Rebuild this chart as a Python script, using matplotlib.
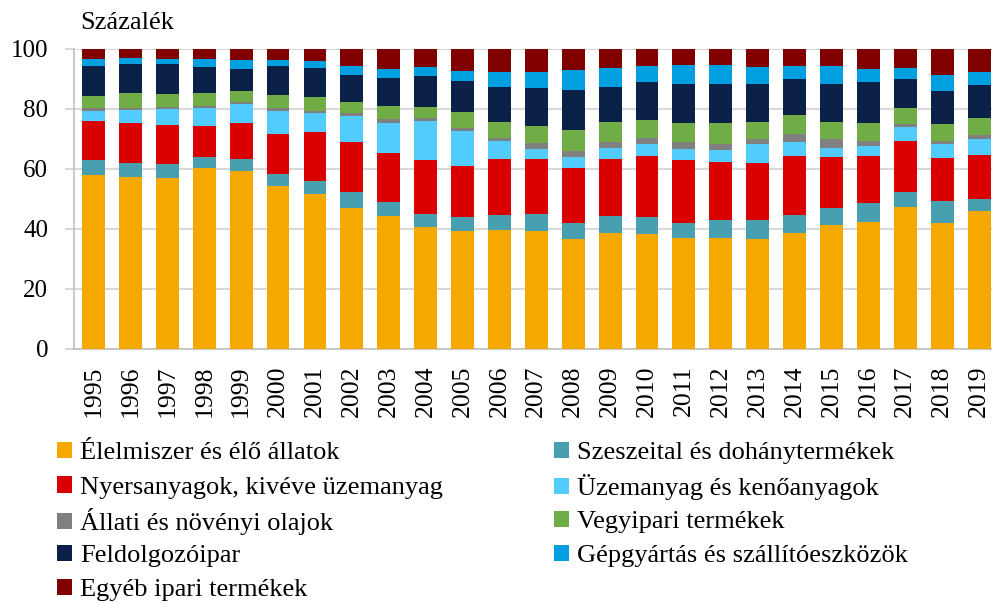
import matplotlib
matplotlib.use("Agg")
import matplotlib.pyplot as plt
from matplotlib.patches import Patch
import numpy as np

years = [str(y) for y in range(1995, 2020)]

elelmiszer = [58.0, 57.3, 57.0, 60.4, 59.2, 54.2, 51.6, 46.8, 44.3, 40.7, 39.4, 39.7, 39.4,
              36.7, 38.7, 38.4, 36.8, 37.1, 36.7, 38.7, 41.2, 42.2, 47.3, 41.8, 45.8]
szeszeital = [4.9, 4.7, 4.5, 3.6, 3.9, 4.1, 4.4, 5.5, 4.7, 4.3, 4.7, 4.9, 5.5,
              5.3, 5.5, 5.7, 5.3, 5.7, 6.1, 6.0, 5.6, 6.4, 5.0, 7.4, 4.2]
nyersanyag = [13.1, 13.2, 13.1, 10.2, 12.3, 13.4, 16.4, 16.5, 16.3, 17.8, 17.0, 18.5, 18.2,
              18.3, 19.2, 20.3, 20.8, 19.5, 19.0, 19.7, 17.0, 15.8, 16.9, 14.4, 14.7]
uzemanyag = [3.1, 4.4, 5.3, 5.9, 6.3, 7.6, 6.3, 8.8, 10.0, 13.0, 11.6, 6.0, 3.6,
             3.7, 3.6, 3.8, 3.7, 3.9, 6.3, 4.6, 3.2, 3.3, 4.6, 4.5, 5.1]
allati = [1.1, 0.8, 0.7, 0.8, 0.5, 0.8, 0.7, 1.0, 1.3, 1.0, 0.9, 1.0, 1.9,
          1.9, 1.9, 1.9, 2.3, 2.2, 1.7, 2.7, 2.9, 1.6, 1.2, 1.2, 1.3]
vegyipar = [4.0, 4.8, 4.4, 4.3, 3.8, 4.5, 4.6, 3.5, 4.3, 3.9, 5.4, 5.5, 5.7,
            7.1, 6.7, 6.2, 6.3, 7.0, 5.9, 6.1, 5.7, 6.0, 5.3, 5.7, 5.9]
feldolgozo = [10.1, 9.8, 9.8, 8.8, 7.3, 9.6, 9.7, 9.0, 9.2, 10.2, 10.1, 11.7, 12.6,
              13.3, 11.8, 12.5, 13.2, 12.7, 12.7, 12.0, 12.6, 13.5, 9.6, 10.8, 10.8]
gepgyartas = [2.4, 1.9, 1.9, 2.4, 2.9, 2.0, 2.3, 3.2, 3.1, 3.0, 3.6, 4.9, 5.5,
              6.5, 6.3, 5.4, 6.3, 6.3, 5.5, 4.4, 5.9, 4.3, 3.7, 5.5, 4.6]
egyeb = [3.3, 3.1, 3.3, 3.6, 3.8, 3.8, 4.0, 5.7, 6.8, 6.1, 7.3, 7.8, 7.6,
         7.2, 6.3, 5.8, 5.3, 5.6, 6.1, 5.8, 5.9, 6.9, 6.4, 8.7, 7.6]

series = [
    ("Élelmiszer és élő állatok", elelmiszer, "#F5A800"),
    ("Szeszeital és dohánytermékek", szeszeital, "#489FB0"),
    ("Nyersanyagok, kivéve üzemanyag", nyersanyag, "#DA0000"),
    ("Üzemanyag és kenőanyagok", uzemanyag, "#52CBFF"),
    ("Állati és növényi olajok", allati, "#808080"),
    ("Vegyipari termékek", vegyipar, "#70AD47"),
    ("Feldolgozóipar", feldolgozo, "#0C2148"),
    ("Gépgyártás és szállítóeszközök", gepgyartas, "#009FE0"),
    ("Egyéb ipari termékek", egyeb, "#800000"),
]

plt.rcParams['font.family'] = ['Liberation Serif', 'DejaVu Serif']

fig = plt.figure(figsize=(9.92, 6.04), dpi=100)
ax = fig.add_axes([0.0746, 0.4222, 1 - 0.0746, 0.9194 - 0.4222])

x = np.arange(len(years))
bottom = np.zeros(len(years))
handles = {}
for name, vals, col in series:
    v = np.array(vals)
    ax.bar(x, v, bottom=bottom, width=0.62, color=col, linewidth=0, zorder=3)
    bottom += v
    handles[name] = Patch(facecolor=col, edgecolor='none')

ax.set_xlim(-0.53, 24.35)
ax.set_ylim(0, 100)
ax.set_yticks([0, 20, 40, 60, 80, 100])
ax.set_xticks(x)
ax.set_xticklabels(years, rotation=90, fontsize=18.5, va='top')
ax.tick_params(axis='x', length=0, pad=12, colors='black')
ax.tick_params(axis='y', length=6.5, width=1.5, color='#D9D9D9', pad=12, labelsize=18)
ax.yaxis.grid(True, color='#D9D9D9', linewidth=1.5, zorder=0)
ax.set_axisbelow(True)
for s in ['top', 'right']:
    ax.spines[s].set_visible(False)
ax.spines['left'].set_color('#BFBFBF')
ax.spines['bottom'].set_color('#BFBFBF')
ax.spines['left'].set_linewidth(1.2)
ax.spines['bottom'].set_linewidth(1.2)

fig.text(0.081, 0.962, "Százalék", fontsize=19, va='center', ha='left')

col1 = ["Élelmiszer és élő állatok", "Nyersanyagok, kivéve üzemanyag",
        "Állati és növényi olajok", "Feldolgozóipar", "Egyéb ipari termékek"]
col2 = ["Szeszeital és dohánytermékek", "Üzemanyag és kenőanyagok",
        "Vegyipari termékek", "Gépgyártás és szállítóeszközök"]
row_y = [0.250, 0.193, 0.136, 0.0795, 0.023]
for names, xpos in [(col1, 0.0575), (col2, 0.558)]:
    for n, yy in zip(names, row_y):
        fig.legend([handles[n]], [n], loc='center left',
                   bbox_to_anchor=(xpos, yy), frameon=False, fontsize=19,
                   handlelength=0.58, handleheight=0.58, handletextpad=0.3,
                   borderpad=0, borderaxespad=0)

fig.savefig("out.png", dpi=100)
